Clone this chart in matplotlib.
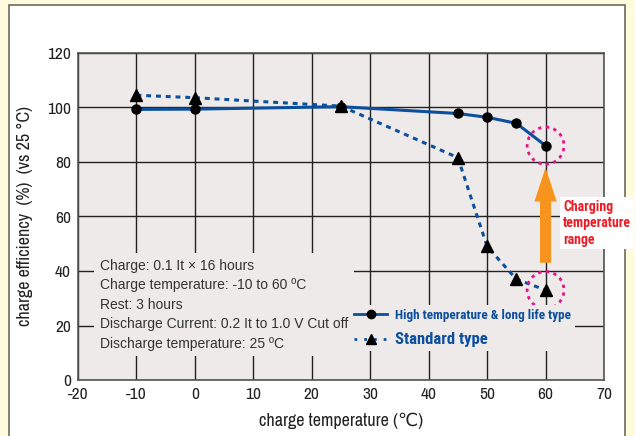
import matplotlib
matplotlib.use("Agg")
import matplotlib.pyplot as plt
from matplotlib.lines import Line2D
from matplotlib.patches import Ellipse, FancyArrow, Rectangle

plt.rcParams["axes.unicode_minus"] = False

# data
temp_high = [-10, 0, 25, 45, 50, 55, 60]
eff_high = [99.3, 99.4, 100.3, 97.8, 96.4, 94.2, 86.0]
temp_std = [-10, 0, 25, 45, 50, 55, 60]
eff_std = [104.5, 103.6, 100.5, 81.6, 49.0, 37.0, 33.0]

xticks = [-20, -10, 0, 10, 20, 30, 40, 50, 60, 70]
yticks = [0, 20, 40, 60, 80, 100, 120]

notes = ["Charge: 0.1 It \u00d7 16 hours",
         "Charge temperature: -10 to 60 \u00baC",
         "Rest: 3 hours",
         "Discharge Current: 0.2 It to 1.0 V Cut off",
         "Discharge temperature: 25 \u00baC"]

BLUE = "#0b4f9e"
NARROW = ["Archivo Narrow", "DejaVu Sans"]
CONDB = ["Roboto Condensed", "Archivo Narrow", "DejaVu Sans"]

fig = plt.figure(figsize=(6.35, 4.36), dpi=100)
fig.patch.set_facecolor("#fffbdc")
# white panel with grey frame
fig.patches.append(Rectangle((9 / 635, -0.05), 616 / 635, 1.05 - 5 / 436,
                             transform=fig.transFigure, facecolor="white",
                             edgecolor="#6b6b60", lw=1.2, zorder=-5))

ax = fig.add_axes([78 / 635, 56 / 436, 526 / 635, 327 / 436])
ax.set_facecolor("#eeeae9")
ax.set_xlim(-20, 70)
ax.set_ylim(0, 120)
ax.set_xticks(xticks)
ax.set_yticks(yticks)
ax.grid(True, color="#222222", lw=1.0)
ax.set_axisbelow(True)
ax.tick_params(length=0, labelsize=12.5, colors="#222222", pad=5)
for lab in ax.get_xticklabels() + ax.get_yticklabels():
    lab.set_family(NARROW)
for s in ax.spines.values():
    s.set_color("#555555")
    s.set_linewidth(1.2)

ax.plot(temp_std, eff_std, color=BLUE, lw=2.2, ls=(0, (1.6, 1.6)),
        marker="^", ms=8, mfc="black", mec="black", zorder=3)
ax.plot(temp_high, eff_high, color=BLUE, lw=2.2, ls="-",
        marker="o", ms=6.5, mfc="black", mec="black", zorder=4)

# pink dashed circles
for yy in (eff_high[-1], eff_std[-1]):
    ax.add_patch(Ellipse((60, yy), 6.3, 13.6, fill=False, ec="#e8108c",
                         lw=2, ls=(0, (1.2, 1.6)), zorder=5))

# orange arrow
ax.add_patch(FancyArrow(60, 43, 0, 35, width=1.9, head_width=3.8,
                        head_length=12.5, length_includes_head=True,
                        color="#f7941d", lw=0, zorder=5))
ax.text(63.0, 57.5, "Charging\ntemperature\nrange", color="#ed1c24",
        fontsize=10, fontweight="bold", family=CONDB, linespacing=1.2,
        va="center", ha="left", zorder=6,
        bbox=dict(fc="white", ec="none", pad=2))

# condition notes
ax.text(-16.3, 44.5, "\n".join(notes), fontsize=10, color="#333333",
        family=["Liberation Sans", "DejaVu Sans"],
        va="top", ha="left", linespacing=1.5, zorder=2,
        bbox=dict(fc="#eeeae9", ec="none", pad=4))

# legend
handles = [Line2D([], [], color=BLUE, lw=2, marker="o", ms=6, mfc="black", mec="black"),
           Line2D([], [], color=BLUE, lw=2, ls=(0, (1, 2.5)), marker="^", ms=7,
                  mfc="black", mec="black")]
leg = ax.legend(handles, ["High temperature & long life type", "Standard type"],
                loc="lower right", bbox_to_anchor=(0.958, 0.07),
                frameon=True, facecolor="#eeeae9", edgecolor="none",
                framealpha=1, handlelength=2.5, borderpad=0.3,
                labelspacing=0.75, handletextpad=0.6, fancybox=False,
                prop=dict(family=CONDB, weight="bold", size=9.5))
leg.get_texts()[1].set_fontsize(12)
for t in leg.get_texts():
    t.set_color(BLUE)
leg.set_zorder(6)

ax.set_xlabel("charge temperature (\u2103)", fontsize=13, family=NARROW,
              fontweight="medium", color="#222222", labelpad=8)
ax.set_ylabel("charge efficiency  (%)  (vs 25 \u00b0C)", fontsize=13,
              family=NARROW, fontweight="medium", color="#222222", labelpad=10)

fig.savefig("out.png", dpi=100, facecolor=fig.get_facecolor())
